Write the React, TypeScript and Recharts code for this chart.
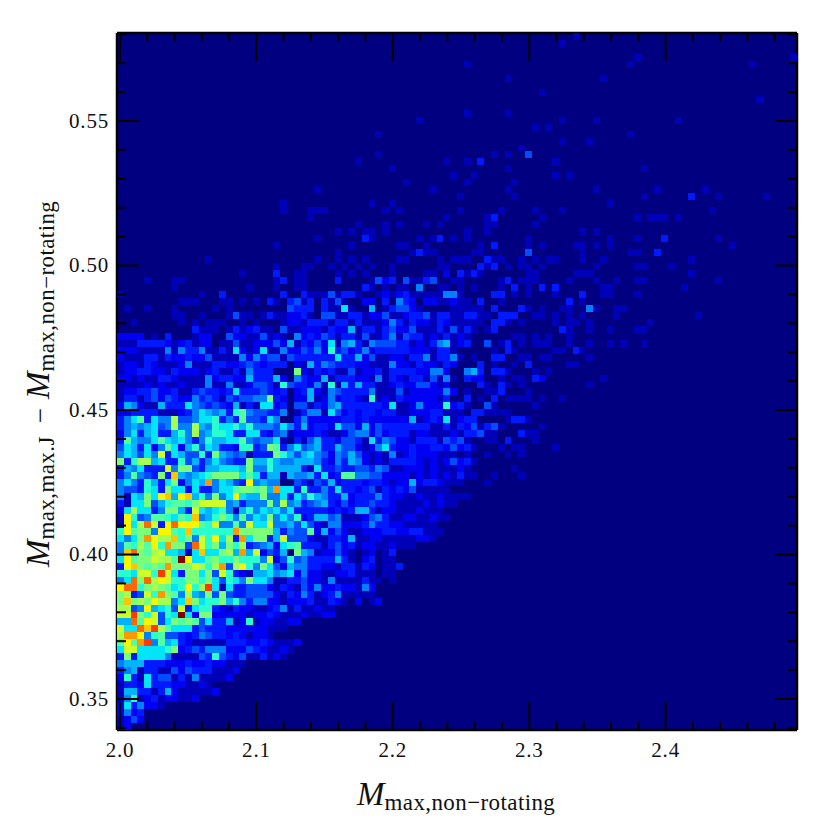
import { ScatterChart, Scatter, XAxis, YAxis, ReferenceArea, Label } from 'recharts'

// histogram range and bin count
const xMin = 1.9978
const xMax = 2.4963
const yMin = 0.33927
const yMax = 0.58045
const binCount = 100

const xTicks = [2.0, 2.02, 2.04, 2.06, 2.08, 2.1, 2.12, 2.14, 2.16, 2.18, 2.2, 2.22, 2.24, 2.26, 2.28, 2.3, 2.32, 2.34, 2.36, 2.38, 2.4, 2.42, 2.44, 2.46, 2.48]
const xMajor = [2.0, 2.1, 2.2, 2.3, 2.4]
const yTicks = [0.34, 0.35, 0.36, 0.37, 0.38, 0.39, 0.4, 0.41, 0.42, 0.43, 0.44, 0.45, 0.46, 0.47, 0.48, 0.49, 0.5, 0.51, 0.52, 0.53, 0.54, 0.55, 0.56, 0.57, 0.58]
const yMajor = [0.35, 0.4, 0.45, 0.5, 0.55]

// counts per bin, one base-36 digit per bin. row 0 is the top row
const leftStartRow = 43
const leftCounts = [
  '22220103000122004221141210',
  '11133332123122011411222426',
  '22211115153351131721271152',
  '21113313223224111152534414',
  '1221321112511133223432333',
  '12233221322212311315333',
  '2212113321111523322633362',
  '111121211211151151124431843',
  '1223342231134332373334323',
  '1331342432253431434455a32',
  '2652116333754343261317723',
  '2233331112357656389544335',
  '35793755b445778353944375',
  '35656745b55b65877868555475',
  '25736733685b56887337732451',
  '3965579767535866779545571',
  '4763725972684763328834a935',
  '576475c3764483a65451333a86',
  'a38bb67338463575433a668655',
  '3657333c5aa43667776a558666',
  '359543a3e65678aaaa79736616',
  '57538637a2576f57643d5655',
  '5443873a7727335779aa9a6f77',
  '5176a7de6de685a57d766a5573',
  '3177a468998acccc563555a5b5',
  '27b7735aa63c76785168576757',
  '1d845998798e568a859576a575',
  '1d7bgc3dgddd98c5595c77c556',
  '8d9aa5dd98e888888faaaaa635',
  '757afdbbe8a5c8d7b3f7aa36c46',
  '598b9d8faa4gc8a6a8b3456278',
  '5ega9bc77617e77ab6f6c2436',
  '7d9aacbb9kd779a88a8885c2489',
  '3dea9a9faaacb8bf4bd85a74266',
  '887cc8hc73aa7a4c8321667567',
  '57gagbdc88aa8a74875a775113',
  'dgg8aba978d8bh71733444213221',
  'ab34c8fa95b65a4a433444421312',
  'aeabadbb57ea788a68535522121',
  'bb45d6784c37883213221123 51'.replace(/ /g, ''),
  'ccha8c487k72aa222221223211',
  '66g9dc47a9a9473361281221122',
  'c77gehb977734333222222111',
  'bffd5894432354332321221',
  '9d9fh5967321111133322321112',
  '7cc77778a23435552224321121',
  '3a37777511114384324113121',
  '5666333222322322111',
  '356133114243331112',
  '28317344131511112',
  '13327333221121',
  '166331362111112',
  '158123122112',
  '2735221',
  '2523',
  '1242',
  '12',
]

const midStartRow = 35
const midStartCol = 26
const midCounts = [
  '110000300001423041134001',
  '11000000003101011050011',
  '031114133100121231111153',
  '413031410022030532022112',
  '3330311710060134421',
  '2310441133122411233413311',
  '213331331311125313221321',
  '1222132261331342241113141',
  '5232431331411351433121312',
  '1324271563154443312135612',
  '243528342352333332221331',
  '3333337336241122133513351',
  '216354333221115221322132',
  'a2132311412231333322552',
  '532261333221513213314151',
  '33251816363311232244212',
  '236215433335111412222252',
  '22612523321812132222213',
  '44132563333332711252228231',
  '1355174232332331122233111',
  '35222223323222222612327121',
  '362332744262433333331131323',
  '2223211245524233312211121324',
  '31463324431735422133314342',
  '745633644212573223223324211',
  '467542546421215123222111',
  '66653253652121333321212421',
  '63173343344354112221211121',
  '556372399554422221212121311',
  '4314362333233212262332111',
  '38335373323413232411111',
  '75865336233353221121121111',
  '634563242334332111121211',
  '3333323236631221112111',
  '82366451112453112211211',
  '474215522235332211111',
  '4492624211222332233111',
  '442113326112211111221',
  '933313423122112111',
  'a65122421012013',
  '453333631023011',
  '5533221331320113',
  '252211223111011',
  '342215111131101',
  '142522322152',
  '253123511111',
  '2231132102012',
  '311211',
  '121122',
]

// scattered bins in the thin part of the histogram: [row, column, count]
const sparseBins: [number, number, number][] = [
  [0, 67, 1], [1, 65, 1], [3, 76, 1], [3, 99, 1], [4, 51, 1], [4, 75, 1], [4, 93, 1],
  [6, 57, 1], [6, 71, 1], [8, 62, 1], [9, 94, 1], [11, 51, 1], [11, 57, 1],
  [12, 65, 1], [12, 70, 1], [12, 82, 1], [12, 44, 1], [13, 61, 1], [13, 63, 1], [14, 75, 1], [14, 38, 1],
  [15, 65, 1], [15, 69, 1], [16, 59, 1], [17, 60, 4], [17, 55, 1], [17, 57, 1], [17, 38, 1],
  [18, 51, 1], [18, 53, 3], [18, 64, 1], [18, 35, 1], [18, 48, 1], [19, 57, 1], [19, 77, 1], [19, 40, 1],
  [20, 52, 1], [20, 64, 1], [20, 66, 1], [20, 49, 1], [21, 51, 1], [21, 58, 1], [21, 42, 1],
  [22, 57, 1], [22, 70, 1], [22, 79, 1], [22, 86, 1], [22, 29, 1], [22, 46, 1],
  [23, 50, 1], [23, 58, 1], [23, 77, 1], [23, 84, 3], [23, 88, 1], [23, 95, 1], [24, 72, 1],
  [24, 24, 1], [24, 37, 1], [24, 40, 1],
  [25, 50, 1], [25, 56, 1], [25, 61, 1], [25, 65, 1], [25, 87, 1], [25, 24, 1], [25, 28, 1], [25, 29, 1], [25, 30, 1], [25, 39, 1], [25, 41, 1],
  [26, 48, 1], [26, 54, 1], [26, 55, 3], [26, 62, 1], [26, 76, 1], [26, 78, 1], [26, 79, 1], [26, 80, 1], [26, 82, 1], [26, 28, 1],
  [27, 54, 1], [27, 55, 1], [27, 61, 1], [27, 35, 1], [27, 39, 1], [27, 41, 1], [27, 45, 1], [27, 47, 1],
  [28, 51, 1], [28, 54, 1], [28, 68, 1], [28, 70, 1], [28, 32, 1], [28, 34, 1], [28, 36, 1], [28, 37, 1], [28, 39, 1],
  [29, 49, 1], [29, 51, 1], [29, 60, 1], [29, 72, 1], [29, 76, 1], [29, 80, 3], [29, 88, 1], [29, 29, 1], [29, 36, 3], [29, 37, 1], [29, 44, 1], [29, 46, 1], [29, 47, 3],
  [30, 23, 1], [30, 53, 1], [30, 55, 3], [30, 60, 1], [30, 62, 1], [30, 67, 1], [30, 68, 1], [30, 70, 1], [30, 72, 1], [30, 90, 1], [30, 34, 1], [30, 41, 1], [30, 42, 1], [30, 45, 1],
  [31, 52, 1], [31, 53, 1], [31, 60, 4], [31, 68, 1], [31, 75, 1], [31, 76, 1], [31, 79, 3], [31, 32, 1], [31, 43, 1], [31, 44, 3], [31, 45, 1], [31, 46, 1],
  [32, 13, 1], [32, 49, 1], [32, 50, 1], [32, 51, 1], [32, 54, 3], [32, 55, 1], [32, 56, 1], [32, 59, 1], [32, 61, 1], [32, 63, 1], [32, 64, 1], [32, 68, 1], [32, 71, 1], [32, 84, 1], [32, 29, 1], [32, 32, 1], [32, 34, 1], [32, 36, 1], [32, 41, 1], [32, 42, 1], [32, 47, 1],
  [33, 23, 1], [33, 53, 3], [33, 54, 1], [33, 55, 3], [33, 57, 1], [33, 59, 1], [33, 60, 1], [33, 62, 1], [33, 70, 1], [33, 76, 1], [33, 77, 1], [33, 81, 1], [33, 27, 1], [33, 28, 1], [33, 31, 1], [33, 33, 1], [33, 35, 1], [33, 37, 1], [33, 40, 1], [33, 47, 1], [33, 48, 1],
  [34, 18, 1], [34, 23, 3], [34, 50, 3], [34, 51, 1], [34, 52, 3], [34, 53, 1], [34, 60, 1], [34, 61, 1], [34, 67, 1], [34, 68, 1], [34, 69, 1], [34, 84, 1], [34, 26, 1], [34, 27, 1], [34, 32, 1], [34, 34, 1], [34, 36, 1], [34, 40, 1], [34, 45, 1], [34, 46, 1], [34, 48, 2],
  [35, 4, 1], [35, 8, 1], [35, 9, 1], [35, 23, 1], [35, 24, 3], [35, 49, 1], [35, 50, 1], [35, 56, 1], [35, 57, 3], [35, 59, 1], [35, 60, 1], [35, 61, 1], [35, 66, 1], [35, 70, 1], [35, 73, 1], [35, 76, 1], [35, 77, 1], [35, 88, 1],
  [36, 8, 1], [36, 19, 1], [36, 23, 1], [36, 50, 1], [36, 52, 1], [36, 56, 1], [36, 58, 3], [36, 60, 1], [36, 62, 3], [36, 64, 3], [36, 71, 1], [36, 72, 1], [36, 83, 1],
  [37, 0, 1], [37, 12, 1], [37, 15, 3], [37, 24, 3], [37, 49, 5], [37, 50, 1], [37, 55, 3], [37, 56, 3], [37, 58, 1], [37, 60, 1], [37, 64, 1], [37, 68, 3], [37, 71, 1], [37, 72, 1], [37, 76, 1],
  [38, 9, 1], [38, 10, 1], [38, 11, 1], [38, 15, 1], [38, 16, 1], [38, 18, 1], [38, 20, 1], [38, 22, 3], [38, 23, 1], [38, 25, 3], [38, 50, 1], [38, 51, 1], [38, 53, 3], [38, 56, 1], [38, 66, 3], [38, 68, 1],
  [39, 1, 1], [39, 4, 1], [39, 8, 1], [39, 14, 1], [39, 16, 1], [39, 25, 4], [39, 49, 1], [39, 50, 1], [39, 51, 1], [39, 52, 1], [39, 53, 1], [39, 55, 3], [39, 59, 3], [39, 60, 1], [39, 62, 1], [39, 65, 1], [39, 66, 1], [39, 69, 5], [39, 70, 1], [39, 73, 1], [39, 74, 1],
  [40, 8, 1], [40, 9, 1], [40, 12, 1], [40, 16, 1], [40, 17, 4], [40, 18, 1], [40, 19, 1], [40, 21, 1], [40, 22, 3], [40, 23, 1], [40, 24, 1], [40, 25, 2], [40, 51, 3], [40, 52, 3], [40, 53, 1], [40, 54, 1], [40, 56, 3], [40, 57, 3], [40, 58, 3], [40, 61, 1], [40, 62, 1], [40, 64, 1], [40, 66, 1], [40, 68, 1], [40, 73, 1], [40, 85, 1],
  [41, 2, 1], [41, 9, 1], [41, 11, 1], [41, 13, 1], [41, 14, 1], [41, 15, 1], [41, 18, 1], [41, 20, 1], [41, 24, 1], [41, 25, 2], [41, 50, 1], [41, 51, 1], [41, 52, 1], [41, 53, 1], [41, 55, 3], [41, 56, 3], [41, 57, 1], [41, 59, 1], [41, 64, 1], [41, 66, 1], [41, 67, 1], [41, 69, 1], [41, 78, 1],
  [42, 11, 3], [42, 12, 1], [42, 13, 1], [42, 14, 1], [42, 16, 1], [42, 17, 3], [42, 18, 1], [42, 19, 2], [42, 20, 3], [42, 21, 1], [42, 22, 1], [42, 24, 4], [42, 25, 1], [42, 51, 3], [42, 52, 1], [42, 54, 1], [42, 55, 3], [42, 65, 3], [42, 66, 1], [42, 69, 1], [42, 72, 1], [42, 76, 1], [42, 77, 1],
  [43, 51, 1], [43, 58, 1], [43, 59, 1], [43, 61, 1], [43, 63, 1], [43, 66, 1],
  [44, 51, 3], [44, 54, 4], [44, 56, 1], [44, 57, 3], [44, 59, 1], [44, 61, 1], [44, 62, 1], [44, 63, 1], [44, 66, 1], [44, 69, 1], [44, 72, 1], [44, 74, 1], [44, 77, 1],
  [45, 55, 1], [45, 57, 3], [45, 58, 1], [45, 64, 1], [45, 65, 1], [45, 67, 3], [45, 68, 1],
  [46, 52, 1], [46, 55, 3], [46, 56, 3], [46, 59, 1], [46, 60, 1], [46, 62, 1], [46, 63, 1], [46, 69, 1],
  [47, 53, 3], [47, 55, 1], [47, 58, 1], [47, 60, 3], [47, 66, 1], [47, 67, 1],
  [48, 51, 5], [48, 52, 6], [48, 53, 3], [48, 55, 3], [48, 56, 3], [48, 57, 1], [48, 61, 1], [48, 63, 1],
  [49, 51, 3], [49, 52, 2], [49, 53, 2], [49, 56, 1], [49, 58, 1], [49, 59, 1], [49, 61, 3], [49, 62, 2], [49, 71, 1],
  [50, 53, 3], [50, 54, 1], [50, 56, 3], [50, 57, 1], [50, 59, 1], [50, 69, 1],
  [51, 51, 1], [51, 54, 1], [51, 55, 1], [51, 56, 3], [51, 60, 1],
  [52, 51, 3], [52, 53, 1], [52, 55, 3], [52, 57, 1], [52, 58, 1], [52, 59, 1], [52, 60, 1], [52, 62, 1], [52, 65, 1],
  [53, 51, 1], [53, 54, 4], [53, 55, 1], [53, 61, 1],
  [54, 52, 3], [54, 53, 3], [54, 54, 1], [54, 55, 1], [54, 56, 1], [54, 57, 1],
  [55, 51, 3], [55, 52, 3], [55, 57, 1], [55, 58, 3], [55, 59, 3], [55, 60, 1],
  [56, 52, 4], [56, 53, 1], [56, 54, 3], [56, 55, 4], [56, 56, 1], [56, 62, 1],
  [57, 51, 3], [57, 52, 3], [57, 54, 1], [57, 55, 1], [57, 59, 3], [57, 60, 1], [57, 61, 1],
  [58, 51, 1], [58, 54, 1], [58, 55, 1], [58, 57, 3], [58, 61, 1],
  [59, 51, 3], [59, 52, 1], [59, 56, 1], [59, 58, 1], [59, 59, 1], [59, 64, 1],
  [60, 51, 1], [60, 54, 1], [60, 57, 1], [60, 59, 1],
  [61, 51, 3], [61, 52, 1], [62, 58, 1], [63, 55, 1], [63, 59, 1], [64, 54, 1],
]

const maxCount = 20

// matplotlib jet, evaluated at a 0..1 position
const jetChannel = (t: number, pts: number[][]) => {
  for (let i = 1; i < pts.length; i++) {
    if (t <= pts[i][0]) {
      const [x0, y0] = pts[i - 1]
      const [x1, y1] = pts[i]
      return y0 + ((t - x0) / (x1 - x0)) * (y1 - y0)
    }
  }
  return pts[pts.length - 1][1]
}
const jetR = [[0, 0], [0.35, 0], [0.66, 1], [0.89, 1], [1, 0.5]]
const jetG = [[0, 0], [0.125, 0], [0.375, 1], [0.64, 1], [0.91, 0], [1, 0]]
const jetB = [[0, 0.5], [0.11, 1], [0.34, 1], [0.65, 0], [1, 0]]
const jet = (t: number) => {
  const c = (pts: number[][]) => Math.round(jetChannel(t, pts) * 255)
  return `rgb(${c(jetR)},${c(jetG)},${c(jetB)})`
}

const grid: number[][] = Array.from({ length: binCount }, () => new Array(binCount).fill(0))
leftCounts.forEach((s, i) => {
  s.split('').forEach((ch, c) => { grid[leftStartRow + i][c] = parseInt(ch, 36) })
})
midCounts.forEach((s, i) => {
  s.split('').forEach((ch, c) => { grid[midStartRow + i][midStartCol + c] = parseInt(ch, 36) })
})
sparseBins.forEach(([r, c, n]) => { grid[r][c] = n })

const cells: { mass: number; delta: number; count: number }[] = []
grid.forEach((row, r) => {
  row.forEach((count, c) => {
    if (count > 0) {
      cells.push({
        mass: xMin + ((c + 0.5) * (xMax - xMin)) / binCount,
        delta: yMax - ((r + 0.5) * (yMax - yMin)) / binCount,
        count,
      })
    }
  })
})

const W = 830
const H = 830
// the axes take 1px each, which gives a plot from 117,33 to 797,730
const margin = { top: 32, right: 32, bottom: 99, left: 116 }
const plotW = W - margin.left - margin.right - 2
const plotH = H - margin.top - margin.bottom - 2
const cellW = plotW / binCount
const cellH = plotH / binCount

const serif = '"Liberation Serif", "DejaVu Serif", serif'
const black = '#000'
const tickWidth = 2

const HeatCell = (props: any) => {
  const { cx, cy, payload } = props
  return (
    <rect
      x={cx - cellW / 2}
      y={cy - cellH / 2}
      width={cellW}
      height={cellH}
      fill={jet(payload.count / maxCount)}
      shapeRendering="crispEdges"
    />
  )
}

const isMajor = (list: number[], v: number) => list.some(m => Math.abs(m - v) < 1e-6)

const BottomTick = ({ x, y, payload }: any) => {
  const major = isMajor(xMajor, payload.value)
  return (
    <g>
      <line x1={x} x2={x} y1={y} y2={y - (major ? 28 : 9)} stroke={black} strokeWidth={tickWidth} />
      {major && (
        <text x={x} y={y + 27} textAnchor="middle" fontFamily={serif} fontSize={21} letterSpacing={0.8} fill="#111">
          {payload.value.toFixed(1)}
        </text>
      )}
    </g>
  )
}
const TopTick = ({ x, y, payload }: any) => {
  const major = isMajor(xMajor, payload.value)
  return <line x1={x} x2={x} y1={y} y2={y + (major ? 28 : 9)} stroke={black} strokeWidth={tickWidth} />
}
const LeftTick = ({ x, y, payload }: any) => {
  const major = isMajor(yMajor, payload.value)
  return (
    <g>
      <line x1={x} x2={x + (major ? 22 : 9)} y1={y} y2={y} stroke={black} strokeWidth={tickWidth} />
      {major && (
        <text x={x - 8} y={y + 7} textAnchor="end" fontFamily={serif} fontSize={21} letterSpacing={0.8} fill="#111">
          {payload.value.toFixed(2)}
        </text>
      )}
    </g>
  )
}
const RightTick = ({ x, y, payload }: any) => {
  const major = isMajor(yMajor, payload.value)
  return <line x1={x} x2={x - (major ? 22 : 9)} y1={y} y2={y} stroke={black} strokeWidth={tickWidth} />
}

const XTitle = () => (
  <text x={357} y={805} fontFamily={serif} fill="#111">
    <tspan fontSize={33} fontStyle="italic">M</tspan>
    <tspan fontSize={23} letterSpacing={0.4} dy={5} dx={0}>max,non−rotating</tspan>
  </text>
)

const YTitle = () => (
  <text transform="translate(49,567) rotate(-90)" fontFamily={serif} fill="#111">
    <tspan fontSize={33} fontStyle="italic">M</tspan>
    <tspan fontSize={23} letterSpacing={0.4} dy={5} dx={0}>max,max.J</tspan>
    <tspan fontSize={27} dy={-5} dx={13}>−</tspan>
    <tspan fontSize={33} fontStyle="italic" dx={9}>M</tspan>
    <tspan fontSize={23} letterSpacing={0.4} dy={5} dx={0}>max,non−rotating</tspan>
  </text>
)

export default function App() {
  return (
    <div style={{ position: 'absolute', left: 0, top: 0, width: W, height: H, background: '#fff' }}>
      <ScatterChart width={W} height={H} margin={margin}>
        <XAxis
          xAxisId="bottom"
          type="number"
          dataKey="mass"
          domain={[xMin, xMax]}
          allowDataOverflow
          ticks={xTicks}
          interval={0}
          tick={BottomTick}
          tickLine={false}
          tickSize={0}
          tickMargin={0}
          height={1}
          axisLine={{ stroke: black, strokeWidth: 2.5 }}
        >
          <Label content={XTitle} />
        </XAxis>
        <XAxis
          xAxisId="top"
          orientation="top"
          type="number"
          dataKey="mass"
          domain={[xMin, xMax]}
          allowDataOverflow
          ticks={xTicks}
          interval={0}
          tick={TopTick}
          tickLine={false}
          tickSize={0}
          tickMargin={0}
          height={1}
          axisLine={{ stroke: black, strokeWidth: 2.5 }}
        />
        <YAxis
          yAxisId="left"
          type="number"
          dataKey="delta"
          domain={[yMin, yMax]}
          allowDataOverflow
          ticks={yTicks}
          interval={0}
          tick={LeftTick}
          tickLine={false}
          tickSize={0}
          tickMargin={0}
          width={1}
          axisLine={{ stroke: black, strokeWidth: 2.5 }}
        >
          <Label content={YTitle} />
        </YAxis>
        <YAxis
          yAxisId="right"
          orientation="right"
          type="number"
          dataKey="delta"
          domain={[yMin, yMax]}
          allowDataOverflow
          ticks={yTicks}
          interval={0}
          tick={RightTick}
          tickLine={false}
          tickSize={0}
          tickMargin={0}
          width={1}
          axisLine={{ stroke: black, strokeWidth: 2.5 }}
        />
        <ReferenceArea
          xAxisId="bottom"
          yAxisId="left"
          x1={xMin}
          x2={xMax}
          y1={yMin}
          y2={yMax}
          fill={jet(0)}
          fillOpacity={1}
          stroke="none"
          ifOverflow="hidden"
        />
        <Scatter
          xAxisId="bottom"
          yAxisId="left"
          data={cells}
          shape={HeatCell}
          isAnimationActive={false}
        />
      </ScatterChart>
    </div>
  )
}
